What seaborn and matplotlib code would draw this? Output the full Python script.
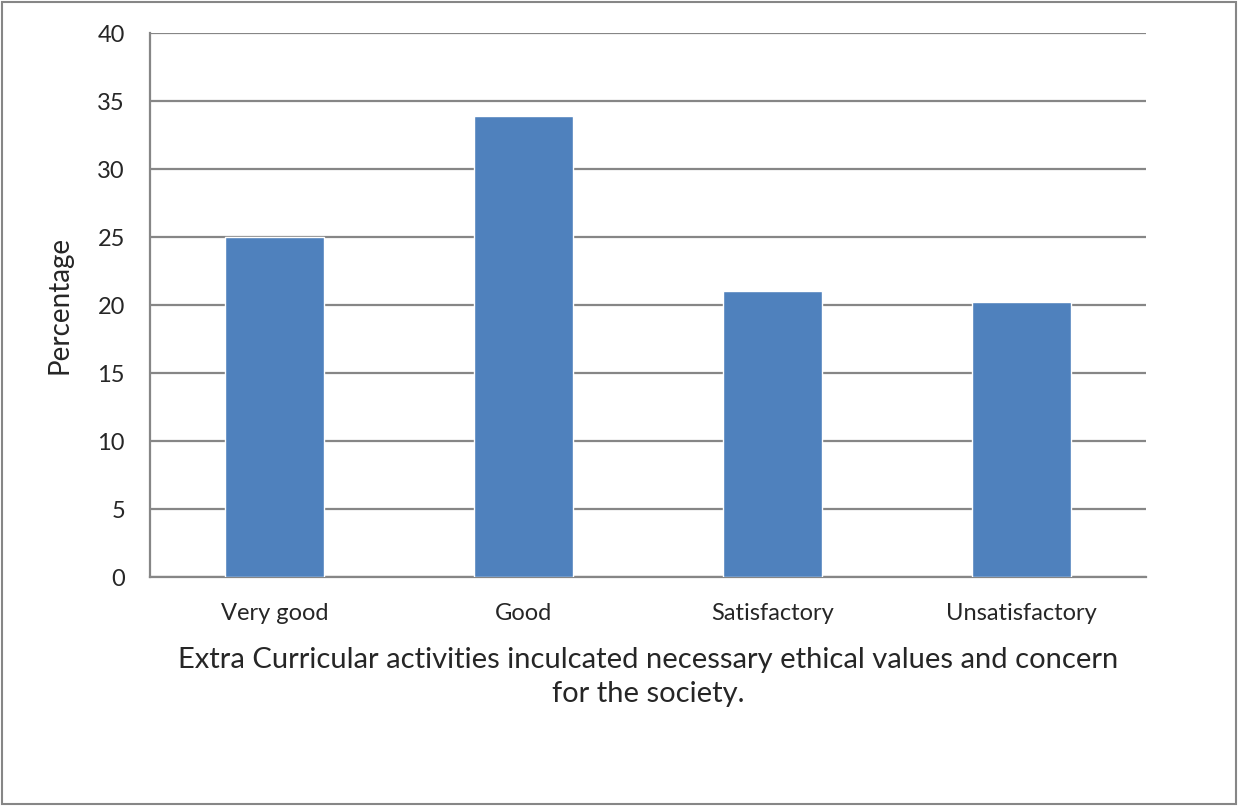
import matplotlib
matplotlib.use("Agg")
import numpy as np
import pandas as pd
import seaborn as sns
import matplotlib.pyplot as plt
from matplotlib.patches import Rectangle

# Data
categories = ["Very good", "Good", "Satisfactory", "Unsatisfactory"]
percentages = [25.0, 33.9, 21.0, 20.2]

df = pd.DataFrame({"Rating": categories, "Percentage": percentages})

# Style
sns.set_style("white")
plt.rcParams['font.family'] = ['Lato', 'DejaVu Sans']

grey = "#868686"

fig = plt.figure(figsize=(12.38, 8.06), dpi=100)
ax = fig.add_axes([150 / 1238, 1 - 577 / 806, (1146 - 150) / 1238, (577 - 33) / 806])

sns.barplot(data=df, x="Rating", y="Percentage", color="#4F81BD", width=0.4,
            saturation=1, ax=ax, zorder=3)

ax.set_ylim(0, 40)
ax.set_xlim(-0.5, len(categories) - 0.5)
ax.set_yticks(np.arange(0, 41, 5))
ax.yaxis.grid(True, color=grey, linewidth=1.6, zorder=0)
ax.set_axisbelow(True)

# spines
for s in ["top", "right"]:
    ax.spines[s].set_visible(False)
for s in ["left", "bottom"]:
    ax.spines[s].set_color(grey)
    ax.spines[s].set_linewidth(1.6)

# ticks: y outward, x at category boundaries
ax.tick_params(axis="y", direction="out", length=6, width=1.6, color=grey,
               labelsize=17, pad=12)
ax.set_xticks(np.arange(-0.5, len(categories), 1.0), minor=True)
ax.tick_params(axis="x", which="minor", direction="out", length=6, width=1.6, color=grey)
ax.tick_params(axis="x", which="major", length=0, labelsize=17, pad=19)

ax.set_ylabel("Percentage", fontsize=20, labelpad=18)
ax.set_xlabel("Extra Curricular activities inculcated necessary ethical values and concern\nfor the society.",
              fontsize=21, labelpad=16, linespacing=1.42)

# outer border
fig.patches.append(Rectangle((0.002, 0.003), 0.996, 0.994, transform=fig.transFigure,
                             fill=False, edgecolor=grey, linewidth=1.5))

fig.savefig("out.png", dpi=100)
